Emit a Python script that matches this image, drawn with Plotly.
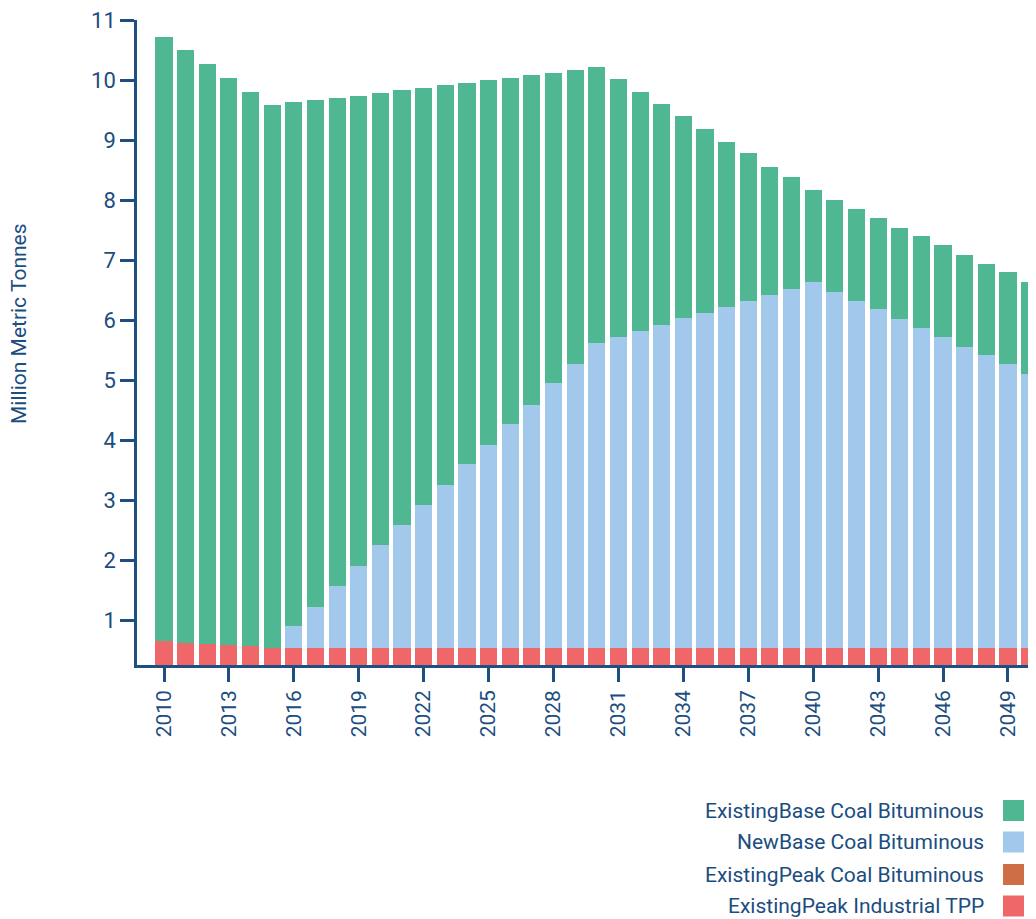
import plotly.graph_objects as go

years = list(range(2010, 2051))

series_names = [
    "ExistingBase Coal Bituminous",
    "NewBase Coal Bituminous",
    "ExistingPeak Coal Bituminous",
    "ExistingPeak Industrial TPP",
]

existing_peak_industrial_tpp = [
    0.655, 0.617, 0.605, 0.583, 0.572, 0.538,
    0.54, 0.54, 0.54, 0.54, 0.54, 0.54, 0.54, 0.54, 0.54, 0.54,
    0.54, 0.54, 0.54, 0.54, 0.54, 0.54, 0.54, 0.54, 0.54, 0.54,
    0.54, 0.54, 0.54, 0.54, 0.54, 0.54, 0.54, 0.54, 0.54, 0.54,
    0.54, 0.54, 0.54, 0.54, 0.54,
]

existing_peak_coal_bituminous = [0.0] * 41

new_base_coal_bituminous = [
    0, 0, 0, 0, 0, 0,
    0.36, 0.68, 1.03, 1.36, 1.71, 2.04, 2.38, 2.71, 3.06, 3.38,
    3.73, 4.04, 4.41, 4.73, 5.08, 5.18, 5.28, 5.38, 5.49, 5.58,
    5.68, 5.78, 5.88, 5.98, 6.09, 5.93, 5.78, 5.64, 5.48, 5.33,
    5.18, 5.01, 4.88, 4.73, 4.56,
]

existing_base_coal_bituminous = [
    10.06, 9.88, 9.66, 9.45, 9.23, 9.05,
    8.73, 8.45, 8.13, 7.83, 7.53, 7.25, 6.95, 6.67, 6.35, 6.08,
    5.77, 5.50, 5.17, 4.90, 4.60, 4.30, 3.98, 3.68, 3.37, 3.07,
    2.75, 2.47, 2.13, 1.87, 1.53, 1.53, 1.53, 1.52, 1.52, 1.53,
    1.53, 1.53, 1.52, 1.53, 1.53,
]

tick_years = list(range(2010, 2050, 3))
y_ticks = list(range(1, 12))

colors = {
    "ExistingBase Coal Bituminous": "#4fb892",
    "NewBase Coal Bituminous": "#a2c8eb",
    "ExistingPeak Coal Bituminous": "#cd6e47",
    "ExistingPeak Industrial TPP": "#f0676a",
}

TEXT = "#1b4d7f"
AXIS = "#1e4f80"
FONT = "Roboto, sans-serif"

# the page body adds an 8px margin; figure is sized so it ends at the window edge
OFF = 8
W, H = 1036 - OFF, 919 - OFF
L, R, T = 137 - OFF, 0, 20 - OFF
B = H - (665 - OFF)
pw, ph = W - L - R, H - T - B

def px_x(px):
    return (px - OFF - L) / pw

def px_y(py):
    return (H - B - (py - OFF)) / ph

fig = go.Figure()
stack = [
    ("ExistingPeak Industrial TPP", existing_peak_industrial_tpp),
    ("ExistingPeak Coal Bituminous", existing_peak_coal_bituminous),
    ("NewBase Coal Bituminous", new_base_coal_bituminous),
    ("ExistingBase Coal Bituminous", existing_base_coal_bituminous),
]
for name, vals in stack:
    fig.add_trace(go.Bar(x=years, y=vals, name=name, marker_color=colors[name],
                         marker_line_width=0, width=0.79, showlegend=False))

fig.update_layout(
    barmode="stack",
    width=W, height=H,
    margin=dict(l=L, r=R, t=T, b=B, pad=0),
    plot_bgcolor="white", paper_bgcolor="white",
    font=dict(family=FONT, color=TEXT, size=21),
)
fig.update_xaxes(
    range=[2010 - 27 / 21.64, 2010 + (1036 - 164) / 21.64],
    tickmode="array", tickvals=tick_years, ticktext=[str(y) for y in tick_years],
    tickangle=-90, ticks="outside", ticklen=14, tickwidth=2.5, tickcolor=AXIS,
    showline=True, linewidth=2.5, linecolor=AXIS, showgrid=False, zeroline=False,
    tickfont=dict(size=21, color=TEXT, family=FONT),
)
fig.update_yaxes(
    range=[0.25, 11.002],
    tickmode="array", tickvals=y_ticks,
    ticks="outside", ticklen=14, tickwidth=2.5, tickcolor=AXIS,
    showline=True, linewidth=2.5, linecolor=AXIS, showgrid=False, zeroline=False,
    tickfont=dict(size=22, color=TEXT, family=FONT),
    ticklabeloverflow="allow",
)

fig.add_annotation(
    text="Million Metric Tonnes", textangle=-90, showarrow=False,
    xref="paper", yref="paper", x=px_x(19), y=px_y(323),
    xanchor="center", yanchor="middle",
    font=dict(size=21, color=TEXT, family=FONT),
)

legend_rows = [810.5, 842, 874.5, 906]
for name, cy in zip(series_names, legend_rows):
    fig.add_annotation(
        text=name, showarrow=False, xref="paper", yref="paper",
        x=px_x(986), y=px_y(cy), xanchor="right", yanchor="middle",
        font=dict(size=21, color=TEXT, family=FONT),
    )
    fig.add_shape(
        type="rect", xref="paper", yref="paper",
        x0=px_x(1003), x1=px_x(1024), y0=px_y(cy + 10.5), y1=px_y(cy - 10.5),
        fillcolor=colors[name], line_width=0,
    )

fig.write_html("out.html")
